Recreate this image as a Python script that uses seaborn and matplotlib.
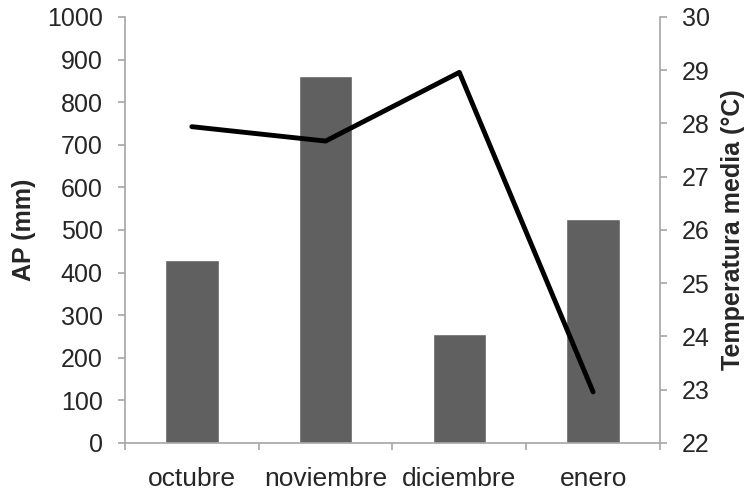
import numpy as np
import pandas as pd
import matplotlib
matplotlib.use("Agg")
import matplotlib.pyplot as plt
import seaborn as sns

# Data
meses = ["octubre", "noviembre", "diciembre", "enero"]
ap_mm = [430, 862, 257, 526]
temp_media = [27.94, 27.67, 28.96, 22.96]

df = pd.DataFrame({"mes": meses, "ap": ap_mm, "temp": temp_media})

sns.set_style("white")
plt.rcParams["font.family"] = ["Liberation Sans", "DejaVu Sans"]

fig = plt.figure(figsize=(7.52, 4.91), dpi=100)
ax = fig.add_axes([0.1662, 0.0978, 0.7114, 0.8676])

sns.barplot(data=df, x="mes", y="ap", color="#606060", width=0.4,
            saturation=1, ax=ax)
ax.set_xlim(-0.5, 3.5)
ax.set_ylim(0, 1000)
ax.set_yticks(np.arange(0, 1001, 100))
ax.set_xlabel("")
ax.set_ylabel("AP (mm)", fontsize=18, fontweight="bold", labelpad=8)

ax2 = ax.twinx()
sns.lineplot(data=df, x="mes", y="temp", color="black", linewidth=3.5,
             sort=False, ax=ax2)
ax2.set_ylim(22, 30)
ax2.set_yticks(np.arange(22, 31, 1))
ax2.set_ylabel("Temperatura media (°C)", fontsize=18, fontweight="bold",
               labelpad=8)
ax2.set_xlim(-0.5, 3.5)

grey = "#a6a6a6"
for a in (ax, ax2):
    for s in a.spines.values():
        s.set_visible(False)
ax.spines["left"].set_visible(True)
ax.spines["bottom"].set_visible(True)
ax2.spines["right"].set_visible(True)
for s in (ax.spines["left"], ax.spines["bottom"], ax2.spines["right"]):
    s.set_color(grey)
    s.set_linewidth(1.2)

# category ticks sit between the bars, like Excel
ax.set_xticks(np.arange(4))
ax.set_xticks(np.arange(-0.5, 4, 1), minor=True)
ax.tick_params(axis="x", which="major", length=0, labelsize=19, pad=17)
ax.tick_params(axis="x", which="minor", length=5, color=grey, width=1.2)
ax.tick_params(axis="y", length=5, color=grey, width=1.2, labelsize=18,
               left=True, direction="out", pad=11)
ax2.tick_params(axis="y", length=5, color=grey, width=1.2, labelsize=18,
                right=True, direction="out", pad=11)
ax.tick_params(axis="x", bottom=True, which="both")

fig.savefig("out.png", dpi=100)
